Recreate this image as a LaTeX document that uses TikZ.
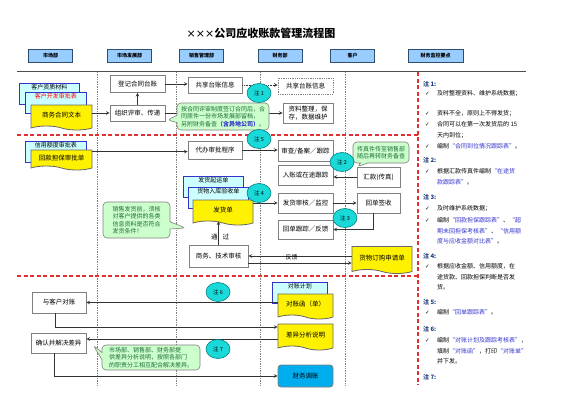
\documentclass[tikz,border=0pt]{standalone}
\usepackage{fontspec}
\setmainfont{Noto Sans CJK SC}
\newfontfamily\symfont{DejaVu Sans}
\usetikzlibrary{shapes.geometric,shapes.symbols,shapes.callouts,positioning}

\definecolor{hdrblue}{HTML}{99CCFF}
\definecolor{hdrline}{HTML}{2F4F6F}
\definecolor{boxgray}{HTML}{808080}
\definecolor{doccyan}{HTML}{CCFFFF}
\definecolor{docblue}{HTML}{3333CC}
\definecolor{noteteal}{HTML}{19D9D9}
\definecolor{callgreen}{HTML}{CCFFCC}
\definecolor{calltext}{HTML}{1E6B3A}
\definecolor{qblue}{HTML}{3333CC}
\definecolor{lanered}{HTML}{E03030}
\definecolor{notenavy}{HTML}{1F3A7A}

\tikzset{
  header/.style={draw=hdrline, fill=hdrblue, line width=0.7pt, minimum width=44pt, minimum height=13pt, inner sep=0pt, font=\fontsize{5}{6}\selectfont\bfseries},
  proc/.style={draw=boxgray, fill=white, line width=0.8pt, minimum width=55pt, minimum height=19pt, inner sep=1pt, align=center, font=\fontsize{6.5}{8}\selectfont},
  sheet/.style={draw=docblue, fill=doccyan, line width=0.8pt, minimum width=60pt, anchor=north west, inner xsep=1pt, inner ysep=1.5pt, text height=5pt, text depth=13pt, font=\fontsize{6}{7}\selectfont},
  docu/.style={tape, tape bend top=none, tape bend bottom=out and in, tape bend height=4pt, draw=black!60, fill=yellow, line width=0.8pt, minimum width=60pt, minimum height=24pt, inner sep=1pt, font=\fontsize{6.5}{8}\selectfont},
  zhu/.style={ellipse, draw=teal, fill=noteteal, line width=0.6pt, minimum width=24pt, minimum height=19pt, inner sep=0pt, font=\fontsize{5.5}{6}\selectfont},
  tip/.style={rectangle callout, rounded corners=4pt, draw=boxgray, fill=callgreen, line width=0.6pt, align=left, inner sep=2pt, text=calltext, font=\fontsize{6}{7.5}\selectfont},
  flow/.style={->, draw=black!80, line width=0.6pt},
  lane/.style={draw=boxgray, densely dotted, line width=0.7pt},
  split/.style={draw=lanered, dash pattern=on 4pt off 2.5pt, line width=1.1pt},
  chk/.style={font=\symfont\fontsize{5.5}{6}\selectfont, inner sep=0pt, anchor=west},
  notehead/.style={font=\fontsize{6}{7}\selectfont\bfseries, text=notenavy, inner sep=0pt, anchor=west},
  notetext/.style={font=\fontsize{6}{10.5}\selectfont, align=left, inner sep=0pt, anchor=north west},
}

\begin{document}
\begin{tikzpicture}[x=1pt, y=-1pt, >=stealth]
\useasboundingbox (0,0) rectangle (565,400);

% lanes
\draw[draw=black!70, line width=0.7pt] (17,71) -- (526,71);
\foreach \lx in {97,176,260,345} {
  \draw[lane] (\lx,72) -- (\lx,385);
}
\draw[split] (418,72) -- (418,385);
\draw[split] (17,135) -- (418,135);
\draw[split] (17,276) -- (418,276);

% title and headers
\node[font=\fontsize{11}{12}\selectfont\bfseries] (title) at (261,33) {{\symfont\mdseries ×××}公司应收账款管理流程图};
\node[header] (h1) at (50.5,56) {市场部};
\node[header] (h2) at (129.5,56) {市场发展部};
\node[header] (h3) at (201.5,56) {销售管理部};
\node[header] (h4) at (280,56) {财务部};
\node[header] (h5) at (352.5,56) {客户};
\node[header, minimum width=55pt] (h6) at (435.5,56) {财务监控要点};

% contract
\node[sheet] (zizhi) at (19,83) {客户资质材料};
\node[sheet, minimum width=61pt, text=red] (kaifa) at (25,92) {客户开发审批表};
\node[docu, minimum width=61pt, minimum height=25pt] (hetong) at (61.5,115.5) {商务合同文本};
\node[proc, minimum height=17pt] (dengji) at (137.5,84) {登记合同台账};
\node[proc, minimum height=16pt] (pingshen) at (137.5,113) {组织评审、传递};
\node[proc, minimum width=54pt, minimum height=16pt] (gongxiang) at (215,85) {共享台账信息};
\node[proc, minimum height=16pt, densely dotted] (gongxiangb) at (305.5,86) {共享台账信息};
\node[proc, minimum width=50pt, minimum height=20pt] (zhengli) at (308,113) {资料整理，保\\存，数据维护};

% credit and delivery
\node[sheet, minimum width=61pt] (xinyong) at (25,141) {信用额度审批表};
\node[docu, minimum width=61pt, minimum height=20pt] (danbao) at (61.5,158) {回款担保审批单};
\node[proc, minimum width=54pt, minimum height=18pt] (daiban) at (215,150) {代办审批程序};
\node[proc, minimum height=21pt] (shencha) at (305.5,151) {审查/备案／跟踪};
\node[proc, minimum height=20pt] (ruzhang) at (305.5,175) {入账或在途跟踪};
\node[proc, minimum width=43pt, minimum height=20pt] (huikuan) at (378.5,177) {汇款(传真)};
\node[sheet] (qiyun) at (183,176) {发货起运单};
\node[sheet] (ruku) at (188,187) {货物入库验收单};
\node[docu, minimum height=25pt] (fahuodan) at (223,210.5) {发货单};
\node[proc, minimum height=20pt] (shenhe) at (305.5,203) {发货审核／监控};
\node[proc, minimum width=43pt, minimum height=20pt] (qianshou) at (378.5,203) {回单签收};
\node[proc, minimum height=19pt] (genzong) at (305.5,229.5) {回单跟踪／反馈};
\node[proc, minimum width=59pt, minimum height=22pt] (shangwu) at (218.5,256) {商务、技术审核};
\node[docu, minimum height=27pt] (dinggou) at (382,258) {货物订购申请单};

% reconciliation
\node[proc, minimum width=54pt, minimum height=21pt] (duizhang) at (59,302.5) {与客户对账};
\node[sheet, minimum width=55pt] (jihua) at (272,282) {对账计划};
\node[docu, minimum width=55pt, minimum height=25pt] (duizhanghan) at (305.5,304.5) {对账函（单）};
\node[docu, minimum width=55pt, minimum height=26pt] (chayi) at (305.5,335) {差异分析说明};
\node[proc, minimum height=20pt] (queren) at (58.5,343) {确认并解决差异};
\node[proc, fill=cyan, rounded corners=3pt, minimum height=22pt] (tiaozhang) at (305.5,376) {财务调账};

% connectors
\draw[flow] (hetong.east |- pingshen.west) -- (pingshen.west);
\draw[flow] (pingshen.north) -- (dengji.south);
\draw[flow] (dengji.east) -- (dengji.east -| gongxiang.west);
\draw[flow, densely dotted] (gongxiang.east) -- (gongxiang.east -| gongxiangb.west);
\draw[flow] (pingshen.east) -- (pingshen.east -| zhengli.west);
\draw[flow] ([yshift=-2pt]danbao.north east) -- ([yshift=-2pt]danbao.north east -| daiban.west);
\draw[flow] (daiban.east) -- (daiban.east -| shencha.west);
\draw[flow] (huikuan.west) -- (huikuan.west -| ruzhang.east);
\draw[flow] (fahuodan.east |- shenhe.west) -- (shenhe.west);
\draw[flow] (shenhe.east) -- (qianshou.west);
\draw[flow] ([xshift=-5pt]qianshou.south) |- (genzong.east);
\draw[flow] (shangwu.north) -- (shangwu.north |- fahuodan.south);
\node[font=\fontsize{6.5}{8}\selectfont] (tongguo) at (220,237) {通\hspace{5pt}过};
\draw[flow] ([yshift=2pt]dinggou.west) -- ([yshift=2pt]dinggou.west -| shangwu.east);
\draw[flow] ([yshift=-5pt]dinggou.west -| shangwu.east) -- node[pos=0.42, above=-1pt, font=\fontsize{6}{7}\selectfont] (fankui) {反馈} ([yshift=-5pt]dinggou.west);
\draw[flow] (duizhanghan.west |- duizhang.east) -- (duizhang.east);
\draw[flow] ([xshift=-4pt]duizhang.south) |- ([yshift=8pt]chayi.west);
\draw[flow] ([yshift=-4pt]chayi.west) -- ([yshift=-4pt]chayi.west -| queren.east);
\draw[flow] ([xshift=-4pt]queren.south) |- (tiaozhang.west);

% callouts
\node[tip, minimum width=92pt, minimum height=27pt, callout absolute pointer={(167,120)}] (c1) at (223,116.5)
  {按合同评审制度签订合同后，合\\同原件一份市场发展部留档，\\另附财务备查\textcolor{qblue}{\bfseries（含异地公司）}。};
\node[tip, minimum width=56pt, minimum height=21pt, callout absolute pointer={(357,167)}] (c2) at (381,152.5)
  {传真件传至销售部\\随后再转财务备查};
\node[tip, minimum width=67pt, minimum height=36pt, callout absolute pointer={(186,228)}] (c3) at (136.5,220)
  {销售发货前，须核\\对客户提供的各类\\信息资料是否符合\\发货条件！};
\node[tip, minimum width=98pt, minimum height=25pt, callout absolute pointer={(93,345)}] (c4) at (151,357.5)
  {市场部、销售部、财务部提\\供差异分析说明，按照各部门\\的职责分工相互配合解决差异。};

% notes
\node[zhu] (n1) at (259,93) {注 1};
\node[zhu] (n5) at (259,139) {注 5};
\node[zhu] (n2) at (342,162) {注 2};
\node[zhu] (n4) at (259,193) {注 4};
\node[zhu] (n3) at (345,218) {注 3};
\node[zhu] (n6) at (218,292) {注 6};
\node[zhu] (n7) at (218,349) {注 7};

% monitoring points
\node[notehead] (z1) at (423,84) {注 1:};
\node[chk] (k1a) at (425,94) {✓};
\node[notetext] (t1a) at (437,90.5) {及时整理资料、维护系统数据；};
\node[chk] (k1b) at (425,114) {✓};
\node[notetext] (t1b) at (437,110.5) {资料不全，原则上不得发货；};
\node[chk] (k1c) at (425,125) {✓};
\node[notetext] (t1c) at (437,121.5) {合同可以在第一次发货后的 15\\天内到位；};
\node[chk] (k1d) at (425,147) {✓};
\node[notetext] (t1d) at (437,143.5) {编制\textcolor{qblue}{“合同到位情况跟踪表”}。};
\node[notehead] (z2) at (423,160) {注 2:};
\node[chk] (k2a) at (425,172) {✓};
\node[notetext] (t2a) at (437,168.5) {根据汇款传真件编制\textcolor{qblue}{“在途货}\\\textcolor{qblue}{款跟踪表”}。};
\node[notehead] (z3) at (423,197) {注 3:};
\node[chk] (k3a) at (425,209) {✓};
\node[notetext] (t3a) at (437,205.5) {及时维护系统数据；};
\node[chk] (k3b) at (425,221) {✓};
\node[notetext] (t3b) at (437,217.5) {编制\textcolor{qblue}{“回款担保跟踪表”}、\textcolor{qblue}{“超}\\\textcolor{qblue}{期未回担保考核表”}、\textcolor{qblue}{“信用额}\\\textcolor{qblue}{度与应收金额对比表”}。};
\node[notehead] (z4) at (423,256) {注 4:};
\node[chk] (k4a) at (425,267) {✓};
\node[notetext] (t4a) at (437,263.5) {根据应收金额、信用额度，在\\途货款、回款担保判断是否发\\货。};
\node[notehead] (z5) at (423,302) {注 5:};
\node[chk] (k5a) at (425,313) {✓};
\node[notetext] (t5a) at (437,309.5) {编制\textcolor{qblue}{“回单跟踪表”}。};
\node[notehead] (z6) at (423,329) {注 6:};
\node[chk] (k6a) at (425,341) {✓};
\node[notetext] (t6a) at (437,337.5) {编制\textcolor{qblue}{“对账计划及跟踪考核表”}，\\填制\textcolor{qblue}{“对账函”}，打印\textcolor{qblue}{“对账单”}\\并下发。};
\node[notehead] (z7) at (423,377) {注 7:};
\end{tikzpicture}
\end{document}
